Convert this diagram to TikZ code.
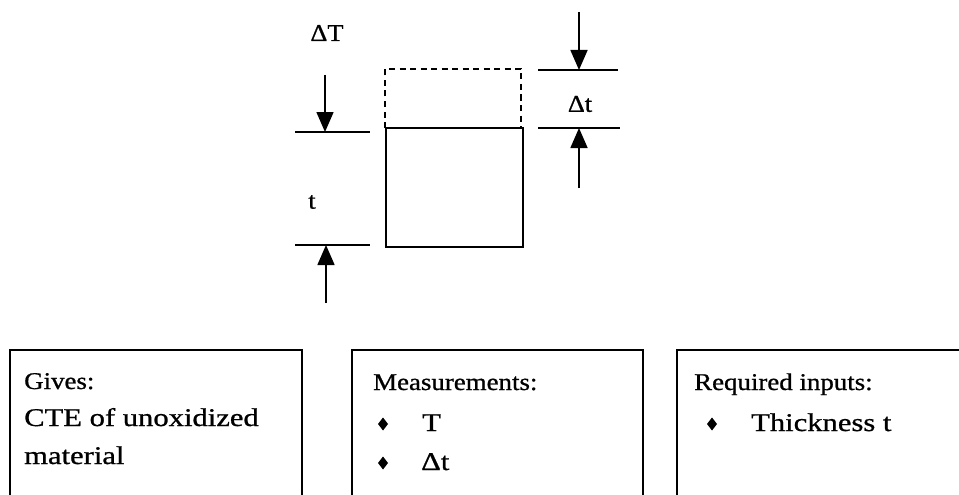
\documentclass[tikz,border=0pt]{standalone}
\usepackage{fontspec}
\usepackage{graphicx}
\setmainfont[FakeBold=0.8]{Liberation Serif}
\usetikzlibrary{arrows.meta}
\newcommand\hdtext[1]{\scalebox{1.12}[1]{#1}}
\newcommand\bdtext[1]{\scalebox{1.2}[1]{#1}}
\newcommand\lbtext[1]{\scalebox{1.1}[1]{#1}}
\tikzset{
  dimline/.style={line width=2.1pt},
  dimarrow/.style={line width=1.6pt,-{Triangle[width=17pt,length=20pt]}},
  boxline/.style={line width=1.7pt},
  lbl/.style={font=\fontsize{24}{28}\selectfont,inner sep=0pt},
  head/.style={font=\fontsize{24}{28}\selectfont,inner sep=0pt,anchor=base west},
  body/.style={font=\fontsize{25.5}{30}\selectfont,inner sep=0pt,anchor=base west}
}
\newcommand\diam[2]{\fill (#1-5,#2) -- (#1,#2-6.5) -- (#1+5,#2) -- (#1,#2+6.5) -- cycle;}
\begin{document}
\begin{tikzpicture}[x=1pt,y=-1pt]
\useasboundingbox (0,0) rectangle (959,495);
% rectangles
\draw[line width=2.1pt,dash pattern=on 6pt off 4.5pt] (385,128) -- (385,69) -- (521,69) -- (521,128);
\draw[line width=2.1pt] (386,128) rectangle (523,247);
% left dimension
\coordinate (lt1) at (295,132); \coordinate (lt2) at (370,132);
\coordinate (lb1) at (295,245); \coordinate (lb2) at (370,245);
\draw[dimline] (lt1) -- (lt2);
\draw[dimline] (lb1) -- (lb2);
\coordinate (ta) at (325,75); \coordinate (tb) at (325,132);
\draw[dimarrow] (ta) -- (tb);
\coordinate (ba) at (326,303); \coordinate (bb) at (326,245);
\draw[dimarrow] (ba) -- (bb);
\node[lbl] (dT) at (327,33) {\lbtext{ΔT}};
\node[lbl] (tl) at (312,202) {\lbtext{t}};
% right dimension
\coordinate (rt1) at (538,70); \coordinate (rt2) at (618,70);
\coordinate (rb1) at (538,128); \coordinate (rb2) at (620,128);
\draw[dimline] (rt1) -- (rt2);
\draw[dimline] (rb1) -- (rb2);
\coordinate (ra) at (579,12); \coordinate (rb) at (579,70);
\draw[dimarrow] (ra) -- (rb);
\coordinate (rc) at (579,188); \coordinate (rd) at (579,128);
\draw[dimarrow] (rc) -- (rd);
\node[lbl] (dt) at (580,104) {\lbtext{Δt}};
% boxes
\draw[boxline] (10,497) -- (10,350) -- (302,350) -- (302,497);
\draw[boxline] (352,497) -- (352,350) -- (643,350) -- (643,497);
\draw[boxline] (677,497) -- (677,350) -- (961,350);
% box 1
\node[head] (g1) at (24,389) {\hdtext{Gives:}};
\node[body] (g2) at (24,426) {\bdtext{CTE of unoxidized}};
\node[body] (g3) at (24,464) {\bdtext{material}};
% box 2
\node[head] (m1) at (373,390) {\hdtext{Measurements:}};
\diam{383}{424}
\node[body] (m2) at (422,431) {\bdtext{T}};
\diam{383}{463}
\node[body] (m3) at (421,470) {\bdtext{Δt}};
% box 3
\node[head] (r1) at (694,390) {\hdtext{Required inputs:}};
\diam{712}{424}
\node[body] (r2) at (751,431) {\bdtext{Thickness t}};
\end{tikzpicture}
\end{document}
